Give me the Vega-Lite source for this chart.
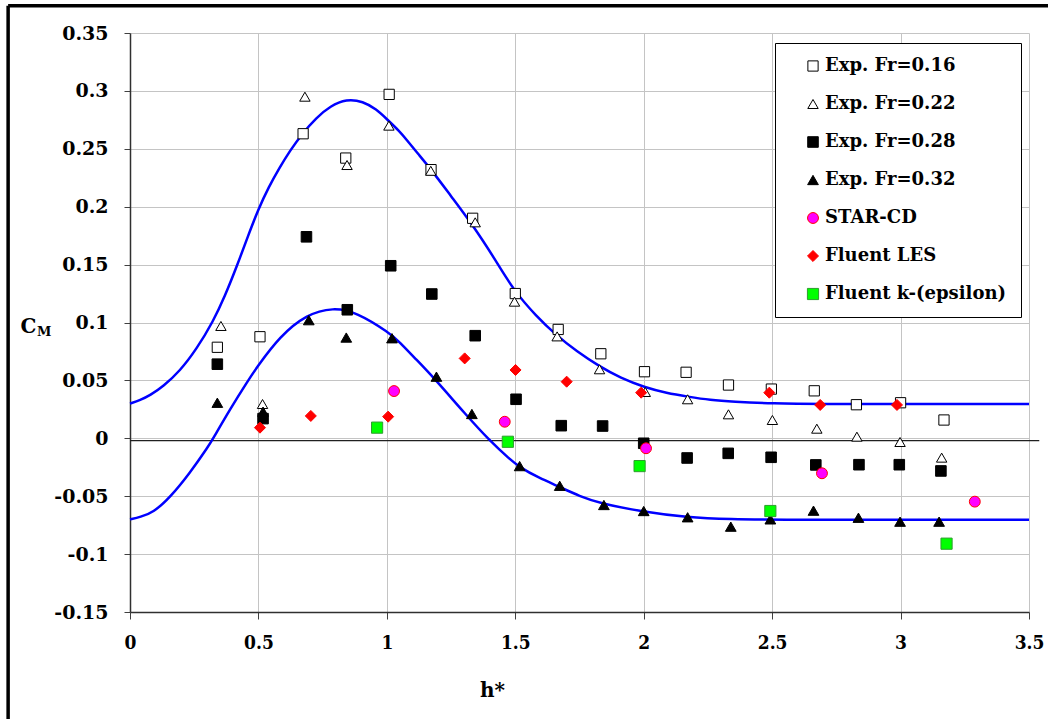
{
  "$schema": "https://vega.github.io/schema/vega-lite/v6.json",
  "autosize": "none",
  "width": 899,
  "height": 579,
  "padding": {"left": 130, "top": 33, "right": 19, "bottom": 107},
  "background": "white",
  "config": {
    "view": {"stroke": null},
    "font": "DejaVu Serif"
  },
  "datasets": {
    "points": [
      {"series": "Exp. Fr=0.16", "h": 0.340, "cm": 0.0786},
      {"series": "Exp. Fr=0.16", "h": 0.506, "cm": 0.0877},
      {"series": "Exp. Fr=0.16", "h": 0.674, "cm": 0.263},
      {"series": "Exp. Fr=0.16", "h": 0.840, "cm": 0.242},
      {"series": "Exp. Fr=0.16", "h": 1.009, "cm": 0.297},
      {"series": "Exp. Fr=0.16", "h": 1.172, "cm": 0.232},
      {"series": "Exp. Fr=0.16", "h": 1.334, "cm": 0.190},
      {"series": "Exp. Fr=0.16", "h": 1.500, "cm": 0.125},
      {"series": "Exp. Fr=0.16", "h": 1.667, "cm": 0.094},
      {"series": "Exp. Fr=0.16", "h": 1.833, "cm": 0.073},
      {"series": "Exp. Fr=0.16", "h": 2.003, "cm": 0.0575},
      {"series": "Exp. Fr=0.16", "h": 2.165, "cm": 0.057},
      {"series": "Exp. Fr=0.16", "h": 2.330, "cm": 0.046},
      {"series": "Exp. Fr=0.16", "h": 2.497, "cm": 0.0425},
      {"series": "Exp. Fr=0.16", "h": 2.664, "cm": 0.041},
      {"series": "Exp. Fr=0.16", "h": 2.828, "cm": 0.029},
      {"series": "Exp. Fr=0.16", "h": 3.000, "cm": 0.0307},
      {"series": "Exp. Fr=0.16", "h": 3.169, "cm": 0.0158},
      {"series": "Exp. Fr=0.22", "h": 0.354, "cm": 0.097},
      {"series": "Exp. Fr=0.22", "h": 0.516, "cm": 0.0296},
      {"series": "Exp. Fr=0.22", "h": 0.681, "cm": 0.295},
      {"series": "Exp. Fr=0.22", "h": 0.845, "cm": 0.236},
      {"series": "Exp. Fr=0.22", "h": 1.008, "cm": 0.270},
      {"series": "Exp. Fr=0.22", "h": 1.171, "cm": 0.231},
      {"series": "Exp. Fr=0.22", "h": 1.344, "cm": 0.1865},
      {"series": "Exp. Fr=0.22", "h": 1.497, "cm": 0.118},
      {"series": "Exp. Fr=0.22", "h": 1.663, "cm": 0.088},
      {"series": "Exp. Fr=0.22", "h": 1.828, "cm": 0.0596},
      {"series": "Exp. Fr=0.22", "h": 2.006, "cm": 0.040},
      {"series": "Exp. Fr=0.22", "h": 2.171, "cm": 0.0337},
      {"series": "Exp. Fr=0.22", "h": 2.330, "cm": 0.0207},
      {"series": "Exp. Fr=0.22", "h": 2.501, "cm": 0.0158},
      {"series": "Exp. Fr=0.22", "h": 2.674, "cm": 0.0083},
      {"series": "Exp. Fr=0.22", "h": 2.830, "cm": 0.0014},
      {"series": "Exp. Fr=0.22", "h": 2.998, "cm": -0.0032},
      {"series": "Exp. Fr=0.22", "h": 3.160, "cm": -0.0167},
      {"series": "Exp. Fr=0.28", "h": 0.340, "cm": 0.064},
      {"series": "Exp. Fr=0.28", "h": 0.518, "cm": 0.017},
      {"series": "Exp. Fr=0.28", "h": 0.687, "cm": 0.174},
      {"series": "Exp. Fr=0.28", "h": 0.846, "cm": 0.111},
      {"series": "Exp. Fr=0.28", "h": 1.015, "cm": 0.149},
      {"series": "Exp. Fr=0.28", "h": 1.175, "cm": 0.1246},
      {"series": "Exp. Fr=0.28", "h": 1.344, "cm": 0.0886},
      {"series": "Exp. Fr=0.28", "h": 1.503, "cm": 0.0337},
      {"series": "Exp. Fr=0.28", "h": 1.679, "cm": 0.0109},
      {"series": "Exp. Fr=0.28", "h": 1.840, "cm": 0.0106},
      {"series": "Exp. Fr=0.28", "h": 2.000, "cm": -0.0043},
      {"series": "Exp. Fr=0.28", "h": 2.169, "cm": -0.017},
      {"series": "Exp. Fr=0.28", "h": 2.329, "cm": -0.013},
      {"series": "Exp. Fr=0.28", "h": 2.496, "cm": -0.0164},
      {"series": "Exp. Fr=0.28", "h": 2.670, "cm": -0.023},
      {"series": "Exp. Fr=0.28", "h": 2.838, "cm": -0.0228},
      {"series": "Exp. Fr=0.28", "h": 2.995, "cm": -0.0228},
      {"series": "Exp. Fr=0.28", "h": 3.157, "cm": -0.0282},
      {"series": "Exp. Fr=0.32", "h": 0.340, "cm": 0.0307},
      {"series": "Exp. Fr=0.32", "h": 0.518, "cm": 0.023},
      {"series": "Exp. Fr=0.32", "h": 0.696, "cm": 0.102},
      {"series": "Exp. Fr=0.32", "h": 0.842, "cm": 0.087},
      {"series": "Exp. Fr=0.32", "h": 1.020, "cm": 0.0864},
      {"series": "Exp. Fr=0.32", "h": 1.193, "cm": 0.0532},
      {"series": "Exp. Fr=0.32", "h": 1.331, "cm": 0.021},
      {"series": "Exp. Fr=0.32", "h": 1.517, "cm": -0.024},
      {"series": "Exp. Fr=0.32", "h": 1.673, "cm": -0.041},
      {"series": "Exp. Fr=0.32", "h": 1.845, "cm": -0.0576},
      {"series": "Exp. Fr=0.32", "h": 2.000, "cm": -0.0628},
      {"series": "Exp. Fr=0.32", "h": 2.171, "cm": -0.0682},
      {"series": "Exp. Fr=0.32", "h": 2.339, "cm": -0.0763},
      {"series": "Exp. Fr=0.32", "h": 2.493, "cm": -0.070},
      {"series": "Exp. Fr=0.32", "h": 2.661, "cm": -0.0625},
      {"series": "Exp. Fr=0.32", "h": 2.836, "cm": -0.0686},
      {"series": "Exp. Fr=0.32", "h": 2.998, "cm": -0.072},
      {"series": "Exp. Fr=0.32", "h": 3.150, "cm": -0.072},
      {"series": "STAR-CD", "h": 1.028, "cm": 0.0408},
      {"series": "STAR-CD", "h": 1.459, "cm": 0.0143},
      {"series": "STAR-CD", "h": 2.009, "cm": -0.0086},
      {"series": "STAR-CD", "h": 2.694, "cm": -0.0302},
      {"series": "STAR-CD", "h": 3.289, "cm": -0.0547},
      {"series": "Fluent LES", "h": 0.506, "cm": 0.0092},
      {"series": "Fluent LES", "h": 0.704, "cm": 0.0193},
      {"series": "Fluent LES", "h": 1.005, "cm": 0.0187},
      {"series": "Fluent LES", "h": 1.303, "cm": 0.069},
      {"series": "Fluent LES", "h": 1.501, "cm": 0.059},
      {"series": "Fluent LES", "h": 1.700, "cm": 0.0489},
      {"series": "Fluent LES", "h": 1.990, "cm": 0.0394},
      {"series": "Fluent LES", "h": 2.489, "cm": 0.0394},
      {"series": "Fluent LES", "h": 2.687, "cm": 0.0288},
      {"series": "Fluent LES", "h": 2.986, "cm": 0.0288},
      {"series": "Fluent k-(epsilon)", "h": 0.962, "cm": 0.0092},
      {"series": "Fluent k-(epsilon)", "h": 1.471, "cm": -0.003},
      {"series": "Fluent k-(epsilon)", "h": 1.984, "cm": -0.024},
      {"series": "Fluent k-(epsilon)", "h": 2.493, "cm": -0.0628},
      {"series": "Fluent k-(epsilon)", "h": 3.179, "cm": -0.091}
    ],
    "curves": [
      {"curve": "upper", "h": 0, "cm": 0.030},
      {"curve": "upper", "h": 0.04, "cm": 0.033},
      {"curve": "upper", "h": 0.078, "cm": 0.037},
      {"curve": "upper", "h": 0.13, "cm": 0.045},
      {"curve": "upper", "h": 0.194, "cm": 0.058},
      {"curve": "upper", "h": 0.259, "cm": 0.077},
      {"curve": "upper", "h": 0.324, "cm": 0.101},
      {"curve": "upper", "h": 0.37, "cm": 0.123},
      {"curve": "upper", "h": 0.415, "cm": 0.148},
      {"curve": "upper", "h": 0.46, "cm": 0.175},
      {"curve": "upper", "h": 0.5, "cm": 0.198},
      {"curve": "upper", "h": 0.54, "cm": 0.217},
      {"curve": "upper", "h": 0.583, "cm": 0.234},
      {"curve": "upper", "h": 0.622, "cm": 0.248},
      {"curve": "upper", "h": 0.67, "cm": 0.263},
      {"curve": "upper", "h": 0.726, "cm": 0.277},
      {"curve": "upper", "h": 0.78, "cm": 0.287},
      {"curve": "upper", "h": 0.843, "cm": 0.293},
      {"curve": "upper", "h": 0.907, "cm": 0.291},
      {"curve": "upper", "h": 0.96, "cm": 0.284},
      {"curve": "upper", "h": 0.998, "cm": 0.276},
      {"curve": "upper", "h": 1.05, "cm": 0.265},
      {"curve": "upper", "h": 1.076, "cm": 0.258},
      {"curve": "upper", "h": 1.12, "cm": 0.246},
      {"curve": "upper", "h": 1.173, "cm": 0.232},
      {"curve": "upper", "h": 1.25, "cm": 0.209},
      {"curve": "upper", "h": 1.335, "cm": 0.184},
      {"curve": "upper", "h": 1.42, "cm": 0.155},
      {"curve": "upper", "h": 1.496, "cm": 0.127},
      {"curve": "upper", "h": 1.58, "cm": 0.106},
      {"curve": "upper", "h": 1.659, "cm": 0.089},
      {"curve": "upper", "h": 1.74, "cm": 0.075},
      {"curve": "upper", "h": 1.828, "cm": 0.062},
      {"curve": "upper", "h": 1.91, "cm": 0.052},
      {"curve": "upper", "h": 2.003, "cm": 0.044},
      {"curve": "upper", "h": 2.09, "cm": 0.039},
      {"curve": "upper", "h": 2.171, "cm": 0.036},
      {"curve": "upper", "h": 2.26, "cm": 0.033},
      {"curve": "upper", "h": 2.346, "cm": 0.0316},
      {"curve": "upper", "h": 2.5, "cm": 0.030},
      {"curve": "upper", "h": 2.7, "cm": 0.0296},
      {"curve": "upper", "h": 3.0, "cm": 0.0296},
      {"curve": "upper", "h": 3.5, "cm": 0.0296},
      {"curve": "lower", "h": 0, "cm": -0.070},
      {"curve": "lower", "h": 0.04, "cm": -0.068},
      {"curve": "lower", "h": 0.091, "cm": -0.064},
      {"curve": "lower", "h": 0.156, "cm": -0.051},
      {"curve": "lower", "h": 0.233, "cm": -0.030},
      {"curve": "lower", "h": 0.305, "cm": -0.007},
      {"curve": "lower", "h": 0.324, "cm": 0.000},
      {"curve": "lower", "h": 0.389, "cm": 0.025},
      {"curve": "lower", "h": 0.46, "cm": 0.050},
      {"curve": "lower", "h": 0.493, "cm": 0.061},
      {"curve": "lower", "h": 0.583, "cm": 0.088},
      {"curve": "lower", "h": 0.687, "cm": 0.107},
      {"curve": "lower", "h": 0.791, "cm": 0.113},
      {"curve": "lower", "h": 0.882, "cm": 0.109},
      {"curve": "lower", "h": 1.011, "cm": 0.091},
      {"curve": "lower", "h": 1.05, "cm": 0.083},
      {"curve": "lower", "h": 1.11, "cm": 0.069},
      {"curve": "lower", "h": 1.18, "cm": 0.053},
      {"curve": "lower", "h": 1.309, "cm": 0.020},
      {"curve": "lower", "h": 1.4, "cm": -0.002},
      {"curve": "lower", "h": 1.478, "cm": -0.018},
      {"curve": "lower", "h": 1.517, "cm": -0.025},
      {"curve": "lower", "h": 1.59, "cm": -0.034},
      {"curve": "lower", "h": 1.673, "cm": -0.042},
      {"curve": "lower", "h": 1.75, "cm": -0.050},
      {"curve": "lower", "h": 1.828, "cm": -0.056},
      {"curve": "lower", "h": 1.996, "cm": -0.0634},
      {"curve": "lower", "h": 2.165, "cm": -0.0682},
      {"curve": "lower", "h": 2.346, "cm": -0.070},
      {"curve": "lower", "h": 2.5, "cm": -0.0704},
      {"curve": "lower", "h": 3.0, "cm": -0.0704},
      {"curve": "lower", "h": 3.5, "cm": -0.0704}
    ],
    "frame": [
      {"x": -0.4745, "x2": -0.4745, "y": 0.3736, "y2": -0.27},
      {"x": -0.4745, "x2": 3.6, "y": 0.3736, "y2": 0.3736}
    ],
    "zeroline": [
      {"x": 0, "x2": 3.54, "y": -0.002}
    ],
    "sub": [
      {"x": -0.334, "y": 0.0915, "t": "M"}
    ]
  },
  "layer": [
    {
      "data": {"name": "frame"},
      "mark": {"type": "rule", "color": "black", "strokeWidth": 3.5, "clip": false},
      "encoding": {
        "x": {"field": "x", "type": "quantitative", "scale": {"domain": [0, 3.5]},
          "axis": {
            "values": [0, 0.5, 1, 1.5, 2, 2.5, 3, 3.5],
            "labelExpr": "'' + datum.value",
            "labelFlush": false,
            "title": "h*",
            "titleFont": "DejaVu Serif", "titleFontWeight": "bold", "titleFontSize": 20,
            "titleX": 362, "titleY": 78, "titleAlign": "center", "titleBaseline": "middle",
            "labelFont": "DejaVu Serif Condensed, DejaVu Serif", "labelFontWeight": "bold", "labelFontSize": 19,
            "labelColor": "black", "labelPadding": 14, "tickSize": 7, "tickColor": "#404040",
            "domainColor": "#303030", "domainWidth": 1.5,
            "grid": true, "gridColor": "#c4c4c4", "gridWidth": 1
          }},
        "x2": {"field": "x2"},
        "y": {"field": "y", "type": "quantitative", "scale": {"domain": [-0.15, 0.35]},
          "axis": {
            "values": [-0.15, -0.1, -0.05, 0, 0.05, 0.1, 0.15, 0.2, 0.25, 0.3, 0.35],
            "labelExpr": "'' + datum.value",
            "labelFlush": false,
            "title": "C",
            "titleFont": "DejaVu Serif", "titleFontWeight": "bold", "titleFontSize": 20,
            "titleAngle": 0, "titleX": -102, "titleY": 293, "titleAlign": "center", "titleBaseline": "middle",
            "labelFont": "DejaVu Serif", "labelFontWeight": "bold", "labelFontSize": 19,
            "labelColor": "black", "labelPadding": 16, "tickSize": 6, "tickColor": "#404040",
            "domainColor": "#303030", "domainWidth": 1.5,
            "grid": true, "gridColor": "#c4c4c4", "gridWidth": 1
          }},
        "y2": {"field": "y2"}
      }
    },
    {
      "data": {"name": "zeroline"},
      "mark": {"type": "rule", "color": "#202020", "strokeWidth": 1.2, "clip": false},
      "encoding": {
        "x": {"field": "x", "type": "quantitative"},
        "x2": {"field": "x2"},
        "y": {"field": "y", "type": "quantitative"}
      }
    },
    {
      "data": {"name": "curves"},
      "mark": {"type": "line", "color": "#0000ff", "strokeWidth": 2.5, "interpolate": "basis"},
      "encoding": {
        "x": {"field": "h", "type": "quantitative"},
        "y": {"field": "cm", "type": "quantitative"},
        "detail": {"field": "curve", "type": "nominal"}
      }
    },
    {
      "data": {"name": "points"},
      "mark": {"type": "point", "filled": true, "strokeWidth": 1, "opacity": 1},
      "encoding": {
        "x": {"field": "h", "type": "quantitative"},
        "y": {"field": "cm", "type": "quantitative"},
        "shape": {"field": "series", "type": "nominal",
          "scale": {"domain": ["Exp. Fr=0.16", "Exp. Fr=0.22", "Exp. Fr=0.28", "Exp. Fr=0.32", "STAR-CD", "Fluent LES", "Fluent k-(epsilon)"],
                    "range": ["square", "triangle-up", "square", "triangle-up", "circle", "diamond", "square"]},
          "legend": {
            "orient": "none", "legendX": 645, "legendY": 10, "title": null,
            "strokeColor": "black", "fillColor": "white", "padding": 14,
            "rowPadding": 20, "labelFont": "DejaVu Serif", "labelFontWeight": "bold",
            "labelFontSize": 18, "labelColor": "black", "symbolStrokeWidth": 1,
            "labelOffset": 3, "labelLimit": 400, "symbolOffset": 15
          }},
        "fill": {"field": "series", "type": "nominal",
          "scale": {"domain": ["Exp. Fr=0.16", "Exp. Fr=0.22", "Exp. Fr=0.28", "Exp. Fr=0.32", "STAR-CD", "Fluent LES", "Fluent k-(epsilon)"],
                    "range": ["white", "white", "black", "black", "#ff00ff", "#ff0000", "#00ff00"]}},
        "stroke": {"field": "series", "type": "nominal",
          "scale": {"domain": ["Exp. Fr=0.16", "Exp. Fr=0.22", "Exp. Fr=0.28", "Exp. Fr=0.32", "STAR-CD", "Fluent LES", "Fluent k-(epsilon)"],
                    "range": ["black", "black", "black", "black", "#ff0000", "#ff0000", "#2e9e2e"]}},
        "size": {"field": "series", "type": "nominal",
          "scale": {"domain": ["Exp. Fr=0.16", "Exp. Fr=0.22", "Exp. Fr=0.28", "Exp. Fr=0.32", "STAR-CD", "Fluent LES", "Fluent k-(epsilon)"],
                    "range": [105, 125, 125, 125, 210, 320, 200]}}
      }
    },
    {
      "data": {"name": "sub"},
      "mark": {"type": "text", "font": "DejaVu Serif", "fontWeight": "bold", "fontSize": 13, "color": "black", "align": "center", "baseline": "middle", "clip": false},
      "encoding": {
        "x": {"field": "x", "type": "quantitative"},
        "y": {"field": "y", "type": "quantitative"},
        "text": {"field": "t"}
      }
    }
  ]
}
